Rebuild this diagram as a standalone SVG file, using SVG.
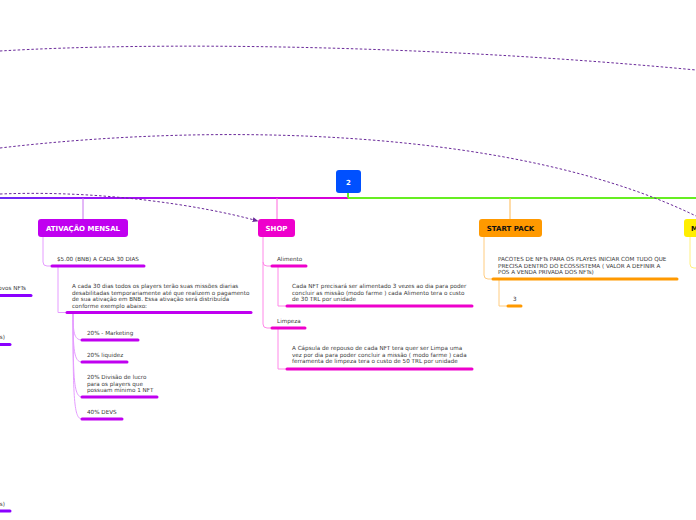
<svg xmlns="http://www.w3.org/2000/svg" width="696" height="520" viewBox="0 0 696 520">
<defs>
<linearGradient id="gMain" gradientUnits="userSpaceOnUse" x1="0" y1="0" x2="348" y2="0">
<stop offset="0" stop-color="#6a2cf5"/>
<stop offset="0.3" stop-color="#9a10f8"/>
<stop offset="0.7" stop-color="#c400ea"/>
<stop offset="1" stop-color="#d800d4"/>
</linearGradient>
<marker id="arr" viewBox="0 0 10 10" refX="9" refY="5" markerWidth="6" markerHeight="6" orient="auto">
<path d="M0,1 L10,5 L0,9 z" fill="#6a2a9a"/>
</marker>
<style>
.t{font-family:"DejaVu Sans","Liberation Sans",sans-serif;font-size:5.65px;fill:#3a3a3a}
.nl{font-family:"DejaVu Sans","Liberation Sans",sans-serif;font-size:7px;font-weight:bold;text-anchor:middle}
.dash{fill:none;stroke:#6a2a9a;stroke-width:1;stroke-dasharray:2.5,2}
.cp{fill:none;stroke:#e59cff;stroke-width:1}
.cs{fill:none;stroke:#ff88e8;stroke-width:1}
.co{fill:none;stroke:#ffcc80;stroke-width:1}
.cy{fill:none;stroke:#fff080;stroke-width:1}
.up{stroke:#c000f0;stroke-width:3;stroke-linecap:round}
.uv{stroke:#8a00ff;stroke-width:3;stroke-linecap:round}
.us{stroke:#ee00cc;stroke-width:3;stroke-linecap:round}
.uo{stroke:#ff9900;stroke-width:3;stroke-linecap:round}
</style>
</defs>
<g id="connectors">
<path d="M0,198 L348,198" stroke="url(#gMain)" stroke-width="2" fill="none"/>
<path d="M348,198 L696,198" stroke="#66ee22" stroke-width="2" fill="none"/>
<path d="M348,193 L348,198" stroke="#66ee22" stroke-width="2"/>
<path d="M83,198 L83,219" stroke="#c870f0" stroke-width="1" fill="none"/>
<path d="M277,198 L277,219" stroke="#ff66dd" stroke-width="1" fill="none"/>
<path d="M510,198 L510,219" stroke="#ffb850" stroke-width="1" fill="none"/>
<path class="dash" d="M0,51 C150,42 420,44 696,70"/>
<path class="dash" d="M0,148 C220,122 520,128 700,218"/>
<path class="dash" marker-end="url(#arr)" d="M0,194 C100,190 200,205 258,221"/>
<!-- ativacao -->
<path class="cp" d="M43,237 L43,262 Q43,266 47,266 L52,266"/>
<path class="cp" d="M58,266 L58,312.5 L67,312.5"/>
<path class="cp" d="M73,313 C73,332 74,340 82,340"/>
<path class="cp" d="M73,313 C73,350 74,362 82,362"/>
<path class="cp" d="M73,313 C73,380 74,397 82,397"/>
<path class="cp" d="M73,313 C73,400 74,419 82,419"/>
<!-- shop -->
<path class="cs" d="M263,237 L263,262 Q263,266 267,266 L272,266"/>
<path class="cs" d="M263,262 L263,324 Q263,328 267,328 L272,328"/>
<path class="cs" d="M278,266 L278,306 L287,306"/>
<path class="cs" d="M278,328 L278,369 L287,369"/>
<!-- start pack -->
<path class="co" d="M484,237 L484,275 Q484,279 488,279 L493,279"/>
<path class="co" d="M499,279 L499,306 L508,306"/>
<!-- yellow -->
<path class="cy" d="M690,237 L690,264 Q690,268 694,268 L696,268"/>
</g>
<g id="node-2">
<rect x="336" y="170" width="25" height="23" rx="3" fill="#0050ff"/>
<text x="348.5" y="184.5" class="nl" fill="#fff">2</text>
</g>
<g id="node-ativacao">
<rect x="38" y="219" width="90" height="18" rx="3" fill="#c000f0"/>
<text x="83" y="231" class="nl" fill="#fff">ATIVAÇÃO MENSAL</text>
</g>
<g id="node-shop">
<rect x="258" y="219" width="37" height="18" rx="3" fill="#ee00cc"/>
<text x="276.5" y="231" class="nl" fill="#fff">SHOP</text>
</g>
<g id="node-startpack">
<rect x="479" y="219" width="63" height="18" rx="3" fill="#ff9900"/>
<text x="510.5" y="231" class="nl" fill="#111">START PACK</text>
</g>
<g id="node-m">
<rect x="684" y="219" width="20" height="18" rx="3" fill="#ffee00"/>
<text x="691" y="231" class="nl" fill="#111" style="text-anchor:start">M</text>
</g>
<g id="node-bnb">
<text x="57" y="261" class="t">$5.00 (BNB) A CADA 30 DIAS</text>
<line x1="52" y1="266" x2="144" y2="266" class="up"/>
</g>
<g id="node-acada">
<text class="t"><tspan x="72" y="288">A cada 30 dias todos os players terão suas missões diarias</tspan><tspan x="72" y="294.5">desabilitadas temporariamente até que realizem o pagamento</tspan><tspan x="72" y="301">de sua ativação em BNB.  Essa ativação será distribuída</tspan><tspan x="72" y="307.5">conforme exemplo abaixo:</tspan></text>
<line x1="67" y1="312.5" x2="251" y2="312.5" class="up"/>
</g>
<g id="node-marketing">
<text x="87" y="335" class="t">20% - Marketing</text>
<line x1="82" y1="340" x2="138" y2="340" class="up"/>
</g>
<g id="node-liquidez">
<text x="87" y="357" class="t">20% liquidez</text>
<line x1="82" y1="362" x2="127" y2="362" class="up"/>
</g>
<g id="node-divisao">
<text class="t"><tspan x="87" y="379">20% Divisão de lucro</tspan><tspan x="87" y="385.5">para os players que</tspan><tspan x="87" y="392">possuam mínimo 1 NFT</tspan></text>
<line x1="82" y1="397" x2="157" y2="397" class="up"/>
</g>
<g id="node-devs">
<text x="87" y="414" class="t">40% DEVS</text>
<line x1="82" y1="419" x2="122" y2="419" class="up"/>
</g>
<g id="node-alimento">
<text x="277" y="261" class="t">Alimento</text>
<line x1="272" y1="266" x2="306" y2="266" class="us"/>
</g>
<g id="node-cadanft">
<text class="t"><tspan x="292" y="288">Cada NFT  precisará ser alimentado 3 vezes ao dia para poder</tspan><tspan x="292" y="294.5">concluir as missão (modo farme ) cada Alimento tera o custo</tspan><tspan x="292" y="301">de 30  TRL por unidade</tspan></text>
<line x1="287" y1="306" x2="472" y2="306" class="us"/>
</g>
<g id="node-limpeza">
<text x="277" y="323" class="t">Limpeza</text>
<line x1="272" y1="328" x2="305" y2="328" class="us"/>
</g>
<g id="node-capsula">
<text class="t"><tspan x="292" y="350">A Cápsula de repouso de cada NFT tera quer ser Limpa uma</tspan><tspan x="292" y="356.5">vez por dia para poder concluir a missão ( modo farme ) cada</tspan><tspan x="292" y="363">ferramenta de limpeza tera o custo de 50 TRL por unidade</tspan></text>
<line x1="287" y1="369" x2="472" y2="369" class="us"/>
</g>
<g id="node-pacotes">
<text class="t"><tspan x="498" y="261">PACOTES DE NFTs PARA OS PLAYES INICIAR COM TUDO QUE</tspan><tspan x="498" y="267.5">PRECISA DENTRO DO ECOSSISTEMA ( VALOR A DEFINIR A</tspan><tspan x="498" y="274">POS A VENDA PRIVADA DOS NFTs)</tspan></text>
<line x1="493" y1="279" x2="677" y2="279" class="uo"/>
</g>
<g id="node-3">
<text x="513" y="301" class="t">3</text>
<line x1="508" y1="306" x2="521" y2="306" class="uo"/>
</g>
<g id="node-left1">
<text x="26" y="290" class="t" text-anchor="end">ovos NFTs</text>
<line x1="-5" y1="295.5" x2="31" y2="295.5" class="uv"/>
</g>
<g id="node-left2">
<text x="5" y="339" class="t" text-anchor="end">s)</text>
<line x1="-5" y1="344.5" x2="10" y2="344.5" class="uv"/>
</g>
<g id="node-left3">
<text x="5" y="506" class="t" text-anchor="end">s)</text>
<line x1="-5" y1="511" x2="10" y2="511" class="uv"/>
</g>
</svg>
